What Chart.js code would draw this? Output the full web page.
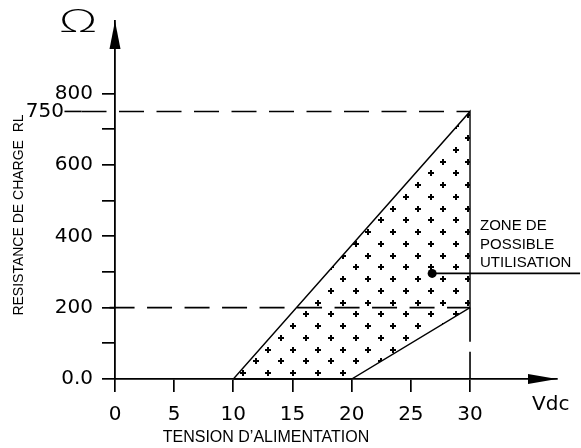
<!DOCTYPE html>
<html>
<head>
<meta charset="utf-8">
<script src="https://cdn.jsdelivr.net/npm/chart.js@4"></script>
<style>
  body { margin: 0; background: #fff; }
  canvas { display: block; }
</style>
</head>
<body>
<canvas id="chart" width="581" height="448"></canvas>
<script>
// zone de possible utilisation (polygone ferme)
const zoneX = [10, 30, 30, 20, 10];
const zoneY = [0, 750, 200, 0, 0];
// lignes de rappel
const lead750X = [-4.27, -2.83];
const lead750Y = [750, 750];
const line750X = [-2.83, 30];
const line750Y = [750, 750];
const line200X = [-0.46, 30];
const line200Y = [200, 200];
const line30X = [30, 30];
const line30Y = [200, 0];
// point repere + trait vers le texte
const markX = [26.8];
const markY = [296];
const leaderX = [26.8, 39.3];
const leaderY = [296, 296];
// graduations
const xTicks = [0, 5, 10, 15, 20, 25, 30];
const xTickLabels = ['0', '5', '10', '15', '20', '25', '30'];
const yTicks = [0, 100, 200, 300, 400, 500, 600, 700, 800];
const yTickLabels = ['0.0', '', '200', '', '400', '', '600', '', '800'];

function pts(xs, ys) {
    return xs.map((x, i) => ({x: x, y: ys[i]}));
}

function plusPattern() {
    const tile = document.createElement('canvas');
    tile.width = 50;
    tile.height = 47;
    const t = tile.getContext('2d');
    t.fillStyle = '#000';
    const centers = [[6, 9], [31, 9], [18, 21], [43, 21], [6, 32], [31, 32], [18, 44], [43, 44]];
    centers.forEach(([cx, cy]) => {
        t.fillRect(cx - 3, cy - 1, 6, 2);
        t.fillRect(cx - 1, cy - 3, 2, 6);
    });
    return t.createPattern(tile, 'repeat');
}

const tickFont = {family: 'DejaVu Sans', size: 20};

const decor = {
    id: 'decor',
    afterDraw(chart) {
        const {ctx, chartArea: a, scales: {x, y}} = chart;
        ctx.save();
        ctx.fillStyle = '#000';
        // fleches des axes
        ctx.beginPath();
        ctx.moveTo(a.left, a.top);
        ctx.lineTo(a.left - 5.5, a.top + 28);
        ctx.lineTo(a.left + 5.5, a.top + 28);
        ctx.closePath();
        ctx.fill();
        ctx.beginPath();
        ctx.moveTo(a.right, a.bottom);
        ctx.lineTo(a.right - 29, a.bottom - 5);
        ctx.lineTo(a.right - 29, a.bottom + 5);
        ctx.closePath();
        ctx.fill();

        // unite ohm
        ctx.save();
        ctx.font = '200 32px "DejaVu Sans"';
        ctx.textAlign = 'center';
        ctx.textBaseline = 'alphabetic';
        ctx.translate(78, 32);
        ctx.scale(1.6, 1);
        ctx.fillText('\u03A9', 0, 0);
        ctx.restore();

        ctx.font = '20px "DejaVu Sans"';
        ctx.textAlign = 'right';
        ctx.textBaseline = 'middle';
        ctx.fillText('750', 64, y.getPixelForValue(750));
        ctx.textAlign = 'left';
        ctx.fillText('Vdc', 532, 405);

        ctx.font = '16px "Liberation Sans"';
        ctx.textAlign = 'center';
        ctx.fillText("TENSION D\u2019ALIMENTATION", 266, 438);

        ctx.save();
        ctx.font = '14px "Liberation Sans"';
        ctx.translate(19, 215);
        ctx.rotate(-Math.PI / 2);
        ctx.fillText('RESISTANCE DE CHARGE  RL', 0, 0);
        ctx.restore();

        ctx.font = '15px "Liberation Sans"';
        ctx.textAlign = 'left';
        ctx.fillText('ZONE DE', 480, 226);
        ctx.fillText('POSSIBLE', 480, 244.5);
        ctx.fillText('UTILISATION', 480, 263);
        ctx.restore();
    }
};

const lineStyle = {showLine: true, pointRadius: 0, borderColor: '#000', fill: false, clip: false};

new Chart(document.getElementById('chart'), {
    type: 'scatter',
    data: {
        datasets: [
            {data: pts(markX, markY), pointRadius: 4.5, pointBackgroundColor: '#000', pointBorderWidth: 0, clip: false},
            Object.assign({data: pts(leaderX, leaderY), borderWidth: 1.6}, lineStyle),
            Object.assign({data: pts(zoneX, zoneY), borderWidth: 1.4}, lineStyle, {fill: 'shape', backgroundColor: plusPattern()}),
            Object.assign({data: pts(lead750X, lead750Y), borderWidth: 1.6}, lineStyle),
            Object.assign({data: pts(line750X, line750Y), borderWidth: 1.6, borderDash: [25, 12.5]}, lineStyle),
            Object.assign({data: pts(line200X, line200Y), borderWidth: 1.6, borderDash: [25, 12.5]}, lineStyle),
            Object.assign({data: pts(line30X, line30Y), borderWidth: 1.6, borderDash: [34, 10]}, lineStyle)
        ]
    },
    options: {
        responsive: false,
        animation: false,
        layout: {padding: {top: 19, right: 24, left: 0, bottom: 0}},
        plugins: {legend: {display: false}, tooltip: {enabled: false}},
        scales: {
            x: {
                type: 'linear',
                min: 0,
                max: 37.35,
                afterBuildTicks: (s) => { s.ticks = xTicks.map((v) => ({value: v})); },
                afterFit: (s) => { s.height = 69; },
                ticks: {
                    callback: (v, i) => xTickLabels[i],
                    font: tickFont, color: '#000', padding: 11, maxRotation: 0, autoSkip: false
                },
                grid: {drawOnChartArea: false, tickLength: 13, color: '#000', lineWidth: 1.7},
                border: {color: '#000', width: 1.8}
            },
            y: {
                type: 'linear',
                min: 0,
                max: 1003.5,
                afterBuildTicks: (s) => { s.ticks = yTicks.map((v) => ({value: v})); },
                afterFit: (s) => { s.width = 115; },
                ticks: {
                    callback: (v, i) => yTickLabels[i],
                    font: tickFont, color: '#000', padding: 9, autoSkip: false
                },
                grid: {drawOnChartArea: false, tickLength: 13, color: '#000', lineWidth: 1.7},
                border: {color: '#000', width: 1.8}
            }
        }
    },
    plugins: [decor]
});
</script>
</body>
</html>
